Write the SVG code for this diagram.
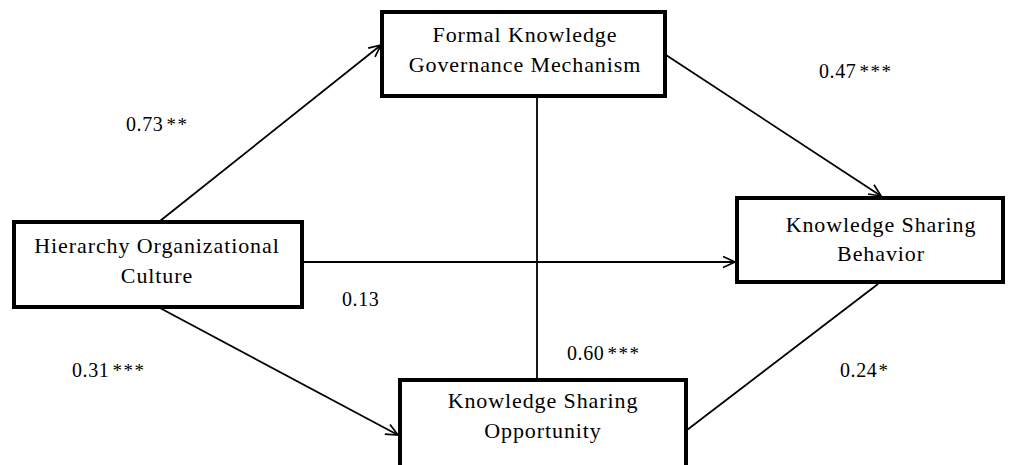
<svg xmlns="http://www.w3.org/2000/svg" width="1013" height="465" viewBox="0 0 1013 465">
  <defs>
    <marker id="arrow" viewBox="0 0 14 14" refX="13" refY="7" markerWidth="14" markerHeight="14" markerUnits="userSpaceOnUse" orient="auto">
      <path d="M1,1.5 L13,7 L1,12.5" fill="none" stroke="#000" stroke-width="1.7"/>
    </marker>
  </defs>
  <style>
    .box { fill: #fff; stroke: #000; stroke-width: 4; }
    .lbl { font-family: "Liberation Serif", "Times New Roman", serif; font-size: 22px; letter-spacing: 0.9px; fill: #000; text-anchor: middle; }
    .coef { font-family: "Liberation Serif", "Times New Roman", serif; font-size: 20px; letter-spacing: 0.6px; fill: #000; }
    .star { letter-spacing: 1.5px; font-size: 19px; }
    .edge { stroke: #000; stroke-width: 1.8; fill: none; }
  </style>
  <rect width="1013" height="465" fill="#fff"/>

  <g id="connectors">
    <line class="edge" x1="160" y1="221" x2="381" y2="45" marker-end="url(#arrow)"/>
    <line class="edge" x1="303" y1="262" x2="735" y2="262" marker-end="url(#arrow)"/>
    <line class="edge" x1="160" y1="308" x2="398" y2="435" marker-end="url(#arrow)"/>
    <line class="edge" x1="537" y1="97" x2="537" y2="379"/>
    <line class="edge" x1="666" y1="55" x2="881" y2="196" marker-end="url(#arrow)"/>
    <line class="edge" x1="687" y1="430" x2="878" y2="284"/>
  </g>

  <g id="formal">
    <rect class="box" x="382" y="12" width="283" height="84"/>
    <text class="lbl" x="525" y="42">Formal Knowledge</text>
    <text class="lbl" x="525" y="72">Governance Mechanism</text>
  </g>

  <g id="hierarchy">
    <rect class="box" x="14" y="222" width="288" height="85"/>
    <text class="lbl" x="157" y="253">Hierarchy Organizational</text>
    <text class="lbl" x="157" y="283">Culture</text>
  </g>

  <g id="behavior">
    <rect class="box" x="737" y="198" width="266" height="84"/>
    <text class="lbl" x="881" y="232">Knowledge Sharing</text>
    <text class="lbl" x="881" y="261">Behavior</text>
  </g>

  <g id="opportunity">
    <rect class="box" x="400" y="380" width="286" height="90"/>
    <text class="lbl" x="543" y="408">Knowledge Sharing</text>
    <text class="lbl" x="543" y="438">Opportunity</text>
  </g>

  <g id="coefficients">
    <text class="coef" x="126" y="131">0.73<tspan class="star" dx="3">**</tspan></text>
    <text class="coef" x="819" y="78">0.47<tspan class="star" dx="3">***</tspan></text>
    <text class="coef" x="342" y="306">0.13</text>
    <text class="coef" x="567" y="360">0.60<tspan class="star" dx="3">***</tspan></text>
    <text class="coef" x="72" y="377">0.31<tspan class="star" dx="3">***</tspan></text>
    <text class="coef" x="840" y="377">0.24<tspan class="star" dx="1">*</tspan></text>
  </g>
</svg>
